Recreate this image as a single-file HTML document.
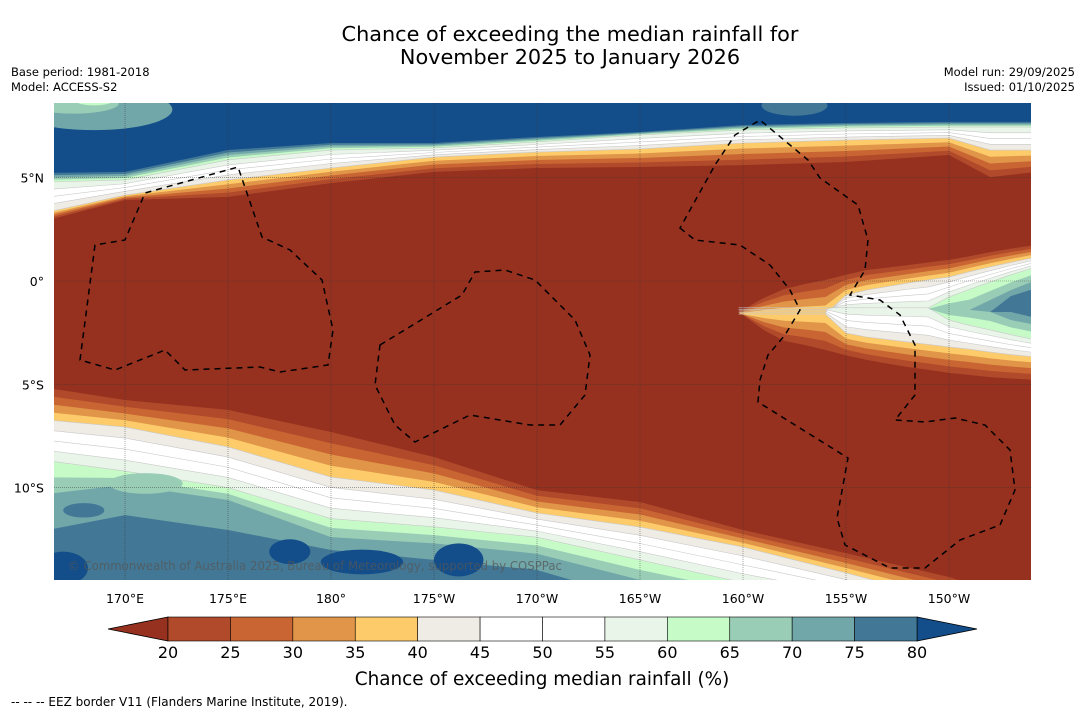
<!DOCTYPE html>
<html><head><meta charset="utf-8"><style>
body{margin:0;background:#fff;}
svg{display:block;font-family:"DejaVu Sans","Liberation Sans",sans-serif;}
</style></head><body>
<svg id="chart" width="1085" height="713" viewBox="0 0 1085 713">
<text x="570" y="41" font-size="20.8" text-anchor="middle">Chance of exceeding the median rainfall for</text>
<text x="570" y="64" font-size="20.8" text-anchor="middle">November 2025 to January 2026</text>
<text x="11" y="76" font-size="11.5">Base period: 1981-2018</text>
<text x="11" y="91" font-size="11.5">Model: ACCESS-S2</text>
<text x="1075" y="76" font-size="11.5" text-anchor="end">Model run: 29/09/2025</text>
<text x="1075" y="91" font-size="11.5" text-anchor="end">Issued: 01/10/2025</text>
<defs><clipPath id="mapclip"><rect x="54" y="103" width="977" height="477"/></clipPath></defs>
<g id="map" clip-path="url(#mapclip)"></g>
<g id="overlay"></g>
<g id="axes"></g>
<g id="cbar"></g>
<text x="542" y="685" font-size="18.4" text-anchor="middle">Chance of exceeding median rainfall (%)</text>
<text x="11" y="706" font-size="12">--  --  -- EEZ border V11 (Flanders Marine Institute, 2019).</text>
</svg>
<script>
const levels=[20,25,30,35,40,45,50,55,60,65,70,75,80];
const bandColors=["#b04a2a","#c96533","#e09548","#fdcb6a","#efece6","#ffffff","#ffffff","#eaf5ea","#c6fbc8","#9acdb6","#71a7a9","#427896"];
const underColor="#963120";
const overColor="#134e8a";
const lonTicks=[170,175,180,185,190,195,200,205,210];
const lonTickLabels=["170°E","175°E","180°","175°W","170°W","165°W","160°W","155°W","150°W"];
const latTicks=[5,0,-5,-10];
const latTickLabels=["5°N","0°","5°S","10°S"];
const frontLons=[166.5,170,175,180,185,190,195,200,205,210,212,214];
const northLevels=[20,40,60,80];
const north20=[2.95,3.92,4.07,4.74,5.28,5.47,5.52,5.61,5.76,6.10,5.03,5.28];
const north40=[3.34,4.16,4.89,5.47,6.00,6.24,6.39,6.68,6.82,6.92,6.34,6.34];
const north60=[4.79,4.89,5.86,6.34,6.44,6.73,7.07,7.31,7.41,7.45,7.45,7.45];
const north80=[5.23,5.28,6.34,6.68,6.68,6.97,7.21,7.55,7.65,7.70,7.70,7.70];
const southLevels=[20,40,60,70,75];
const south20=[-5.18,-5.76,-6.24,-7.31,-8.52,-10.12,-10.70,-12.05,-13.17,-14.33,-14.96,-15.44];
const south40=[-6.73,-7.07,-8.03,-9.49,-10.12,-11.23,-11.91,-12.88,-14.13,-15.44,-15.9,-16.4];
const south60=[-8.7,-9.2,-10.0,-11.5,-11.9,-12.4,-13.5,-14.6,-15.44,-16.4,-16.9,-17.4];
const south70=[-10.3,-9.87,-10.6,-12.4,-12.7,-13.2,-14.47,-15.44,-16,-17,-17.5,-18];
const south75=[-12.05,-11.33,-12.05,-13.02,-13.5,-13.99,-15.44,-16.5,-17,-18,-18.5,-19];
const tongueLons=[199.8,201,202,203,204,205,206,207,208,209,210,211,212,213,214];
const tongueLevels=[20,40,60,70,75];
const tongue20Up=[-1.5,-0.82,-0.39,-0.15,0.05,0.3,0.53,0.65,0.77,0.9,1.02,1.2,1.40,1.57,1.74];
const tongue20Lo=[-1.5,-2.37,-2.90,-3.1,-3.34,-3.6,-3.82,-4.0,-4.16,-4.3,-4.45,-4.55,-4.65,-4.72,-4.79];
const tongue40Up=[-1.6,-1.6,-1.6,-1.6,-1.6,-0.68,-0.44,-0.27,-0.10,0.05,0.19,0.45,0.68,0.9,1.16];
const tongue40Lo=[-1.6,-1.6,-1.6,-1.6,-1.6,-2.52,-2.71,-2.83,-2.95,-3.07,-3.19,-3.3,-3.44,-3.56,-3.68];
const tongue60Up=[-1.3,-1.3,-1.3,-1.3,-1.3,-1.3,-1.3,-1.3,-1.3,-1.3,-0.77,-0.4,-0.05,0.3,0.68];
const tongue60Lo=[-1.3,-1.3,-1.3,-1.3,-1.3,-1.3,-1.3,-1.3,-1.3,-1.3,-1.89,-2.15,-2.37,-2.6,-2.86];
const tongue70Up=[-1.4,-1.4,-1.4,-1.4,-1.4,-1.4,-1.4,-1.4,-1.4,-1.4,-1.4,-1.4,-0.92,-0.44,0.05];
const tongue70Lo=[-1.4,-1.4,-1.4,-1.4,-1.4,-1.4,-1.4,-1.4,-1.4,-1.4,-1.4,-1.4,-1.5,-1.89,-2.13];
const tongue75Up=[-1.5,-1.5,-1.5,-1.5,-1.5,-1.5,-1.5,-1.5,-1.5,-1.5,-1.5,-1.5,-1.5,-0.73,-0.34];
const tongue75Lo=[-1.5,-1.5,-1.5,-1.5,-1.5,-1.5,-1.5,-1.5,-1.5,-1.5,-1.5,-1.5,-1.5,-1.5,-1.79];
const blobLon=[168.5,167.5,168.5,202.5,168,178,181.5,186.2,167,173,189,171];
const blobLat=[8.3,8.6,8.8,8.5,-11.1,-13.1,-13.6,-13.5,-13.9,-13.2,-14.3,-9.8];
const blobRLon=[3.8,2.2,1.0,1.6,1.0,1.0,2.0,1.2,1.2,1.5,1.5,1.8];
const blobRLat=[1.0,0.5,0.3,0.5,0.35,0.6,0.6,0.8,0.8,0.5,0.4,0.5];
const blobLevel=[70,65,60,75,75,80,80,80,80,75,75,65];

const NS="http://www.w3.org/2000/svg";
const xOf=lon=>125+(lon-170)*20.6;
const yOf=lat=>281-lat*20.66;
function colorFor(L){const i=levels.indexOf(L);return i>=bandColors.length?overColor:bandColors[i];}
function mk(tag,attrs,parent){const e=document.createElementNS(NS,tag);for(const k in attrs)e.setAttribute(k,attrs[k]);parent.appendChild(e);return e;}
function interp(lvls,arrs,L){
  for(let i=0;i<lvls.length-1;i++){if(L>=lvls[i]&&L<=lvls[i+1]){const t=(L-lvls[i])/(lvls[i+1]-lvls[i]);return arrs[i].map((v,j)=>v+(arrs[i+1][j]-v)*t);}}
  return null;}
const map=document.getElementById('map');
const bg=mk('rect',{x:54,y:103,width:977,height:477,fill:underColor},map);


// north
levels.forEach(L=>{
  const c=interp(northLevels,[north20,north40,north60,north80],L);if(!c)return;
  let pts=[[xOf(frontLons[0])-5,yOf(10)]];
  c.forEach((lat,j)=>pts.push([xOf(frontLons[j]),yOf(lat)]));
  pts[1][0]-=5;pts[pts.length-1][0]+=5;
  pts.push([xOf(frontLons[frontLons.length-1])+5,yOf(10)]);
  const p=mk('polygon',{points:pts.map(p=>p.join(',')).join(' '),fill:colorFor(L)},map);
  if(L>=40&&L<=60){p.setAttribute('stroke','#c9c9c9');p.setAttribute('stroke-width','0.6');}
  
  
});
// south
levels.forEach(L=>{
  const c=interp(southLevels,[south20,south40,south60,south70,south75],L);if(!c)return;
  let pts=[[xOf(frontLons[0])-5,yOf(-20)]];
  c.forEach((lat,j)=>pts.push([xOf(frontLons[j]),yOf(lat)]));
  pts[1][0]-=5;pts[pts.length-1][0]+=5;
  pts.push([xOf(frontLons[frontLons.length-1])+5,yOf(-20)]);
  const p=mk('polygon',{points:pts.map(p=>p.join(',')).join(' '),fill:colorFor(L)},map);
  if(L>=40&&L<=60){p.setAttribute('stroke','#c9c9c9');p.setAttribute('stroke-width','0.6');}
  
  
});
// tongue
levels.forEach(L=>{
  const up=interp(tongueLevels,[tongue20Up,tongue40Up,tongue60Up,tongue70Up,tongue75Up],L);
  const lo=interp(tongueLevels,[tongue20Lo,tongue40Lo,tongue60Lo,tongue70Lo,tongue75Lo],L);
  if(!up)return;
  let pts=[];
  up.forEach((lat,j)=>pts.push([xOf(tongueLons[j])+(j==up.length-1?5:0),yOf(lat)]));
  for(let j=lo.length-1;j>=0;j--)pts.push([xOf(tongueLons[j])+(j==lo.length-1?5:0),yOf(lo[j])]);
  const p=mk('polygon',{points:pts.map(p=>p.join(',')).join(' '),fill:colorFor(L),'stroke-linejoin':'round'},map);
  if(L>=40&&L<=60){p.setAttribute('stroke','#c9c9c9');p.setAttribute('stroke-width','0.6');}
  
  
});
// blobs
blobLon.forEach((lon,i)=>{
  const e=mk('ellipse',{cx:xOf(lon),cy:yOf(blobLat[i]),rx:blobRLon[i]*20.6,ry:blobRLat[i]*20.66,fill:colorFor(blobLevel[i])},map);
  
  
});
// grid
const ov=document.getElementById('overlay');
lonTicks.forEach(lon=>{const l=mk('line',{x1:xOf(lon),x2:xOf(lon),y1:103,y2:580,stroke:'#333','stroke-width':0.6,'stroke-dasharray':'1,1','stroke-opacity':0.7},ov);

});
latTicks.forEach(lat=>{const l=mk('line',{x1:54,x2:1031,y1:yOf(lat),y2:yOf(lat),stroke:'#333','stroke-width':0.6,'stroke-dasharray':'1,1','stroke-opacity':0.7},ov);

});
// EEZ borders (decorative overlay)
const eez=["M80,360 L95,245 L125,240 L145,193 L238,167 L262,237 L290,250 L322,280 L333,330 L328,365 L280,372 L260,367 L185,370 L165,350 L115,370 Z",
"M380,345 L462,295 L475,272 L505,270 L535,280 L575,320 L590,355 L585,395 L560,425 L530,425 L470,415 L415,442 L395,425 L375,385 Z",
"M680,228 L695,240 L740,245 L770,265 L790,290 L800,310 L785,335 L768,355 L760,380 L758,402 L848,458 L837,518 L845,545 L890,568 L925,568 L960,540 L1000,525 L1015,490 L1010,450 L985,425 L955,418 L925,422 L895,420 L915,395 L915,345 L900,315 L880,300 L850,295 L865,270 L868,240 L858,205 L820,178 L808,160 L790,145 L760,120 L735,135 L715,165 Z"];
eez.forEach(d=>{const p=mk('path',{d:d,fill:'none',stroke:'#000','stroke-width':1.5,'stroke-dasharray':'6,5'},ov);

});
const cp=mk('text',{x:68,y:570,'font-size':12,fill:'#555','fill-opacity':0.75,textLength:494,lengthAdjust:'spacingAndGlyphs'},ov);
cp.textContent="© Commonwealth of Australia 2025, Bureau of Meteorology, supported by COSPPac";


// axes labels
const ax=document.getElementById('axes');
lonTicks.forEach((lon,i)=>{const t=mk('text',{x:xOf(lon),y:603,'font-size':12.5,'text-anchor':'middle'},ax);t.textContent=lonTickLabels[i];

});
latTicks.forEach((lat,i)=>{const t=mk('text',{x:44,y:yOf(lat)+5,'font-size':12.5,'text-anchor':'end'},ax);t.textContent=latTickLabels[i];

});
// colorbar
const cb=document.getElementById('cbar');
const cbx=v=>168+(v-20)*(917-168)/60;
const y0=617,h=24;
const ua=mk('polygon',{points:`${cbx(20)},${y0} 108,${y0+h/2} ${cbx(20)},${y0+h}`,fill:underColor,stroke:'#000','stroke-width':0.8},cb);


const oa=mk('polygon',{points:`${cbx(80)},${y0} 977,${y0+h/2} ${cbx(80)},${y0+h}`,fill:overColor,stroke:'#000','stroke-width':0.8},cb);


bandColors.forEach((c,i)=>{const r=mk('rect',{x:cbx(levels[i]),y:y0,width:cbx(levels[i+1])-cbx(levels[i]),height:h,fill:c,stroke:'#000','stroke-width':0.6},cb);

});
levels.forEach(v=>{const t=mk('text',{x:cbx(v),y:658,'font-size':16,'text-anchor':'middle'},cb);t.textContent=v;

});
</script>
</body></html>
